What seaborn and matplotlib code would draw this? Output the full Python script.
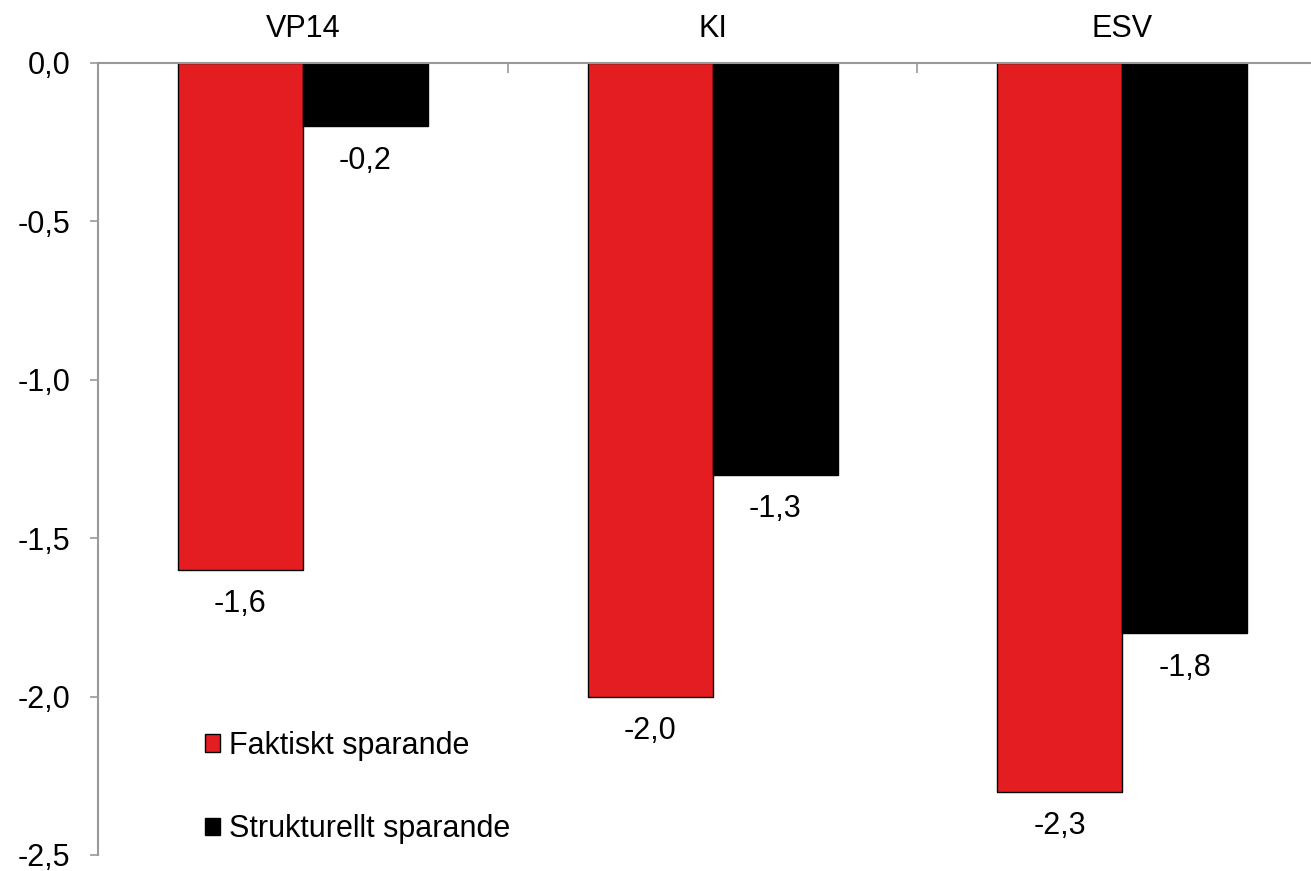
import pandas as pd
import matplotlib
matplotlib.use("Agg")
import matplotlib.pyplot as plt
import seaborn as sns

# chart values
categories = ["VP14", "KI", "ESV"]
series_names = ["Faktiskt sparande", "Strukturellt sparande"]
faktiskt = [-1.6, -2.0, -2.3]
strukturellt = [-0.2, -1.3, -1.8]
yticks = [0.0, -0.5, -1.0, -1.5, -2.0, -2.5]

df = pd.DataFrame({
    "kategori": categories * 2,
    "serie": [series_names[0]] * 3 + [series_names[1]] * 3,
    "varde": faktiskt + strukturellt,
})

sns.set_style("white")
plt.rcParams["font.family"] = ["Liberation Sans", "DejaVu Sans"]
plt.rcParams["text.color"] = "black"
plt.rcParams["xtick.labelcolor"] = "black"
plt.rcParams["ytick.labelcolor"] = "black"

fig = plt.figure(figsize=(13.11, 8.71), dpi=100)
ax = fig.add_axes([0.0748, 0.0184, 0.9375, 0.9093])

sns.barplot(data=df, x="kategori", y="varde", hue="serie", order=categories,
            hue_order=series_names, palette=["#E41E20", "#000000"],
            width=0.61, gap=0, edgecolor="black", linewidth=1, saturation=1,
            errorbar=None, ax=ax)

for cont in ax.containers:
    ax.bar_label(cont, labels=[f"{v:.1f}".replace(".", ",") for v in cont.datavalues],
                 padding=14, fontsize=22, color="black")

ax.set_ylim(-2.5, 0)
ax.set_xlim(-0.5, 2.5)
ax.set_yticks(yticks)
ax.set_yticklabels([f"{v:.1f}".replace(".", ",") for v in yticks], fontsize=22)
ax.tick_params(axis="y", length=6, width=1.2, color="#999999", pad=14, left=True,
               labelcolor="black")

ax.xaxis.tick_top()
ax.set_xticks(range(len(categories)))
ax.set_xticklabels(categories, fontsize=22)
ax.set_xticks([0.5, 1.5], minor=True)
ax.tick_params(axis="x", which="major", length=0, pad=14, labelcolor="black")
ax.tick_params(axis="x", which="minor", length=7, width=1.2, color="#999999",
               top=True, bottom=False, direction="in")
ax.set_xlabel("")
ax.set_ylabel("")

for side in ["right", "bottom"]:
    ax.spines[side].set_visible(False)
for side in ["left", "top"]:
    ax.spines[side].set_color("#999999")
    ax.spines[side].set_linewidth(1.5)

ax.legend(loc="center left", bbox_to_anchor=(0.087, 0.085), frameon=False,
          fontsize=22, handlelength=0.5, handleheight=0.5, handletextpad=0.3,
          labelspacing=1.75, borderpad=0, borderaxespad=0)

fig.savefig("out.png", dpi=100)
